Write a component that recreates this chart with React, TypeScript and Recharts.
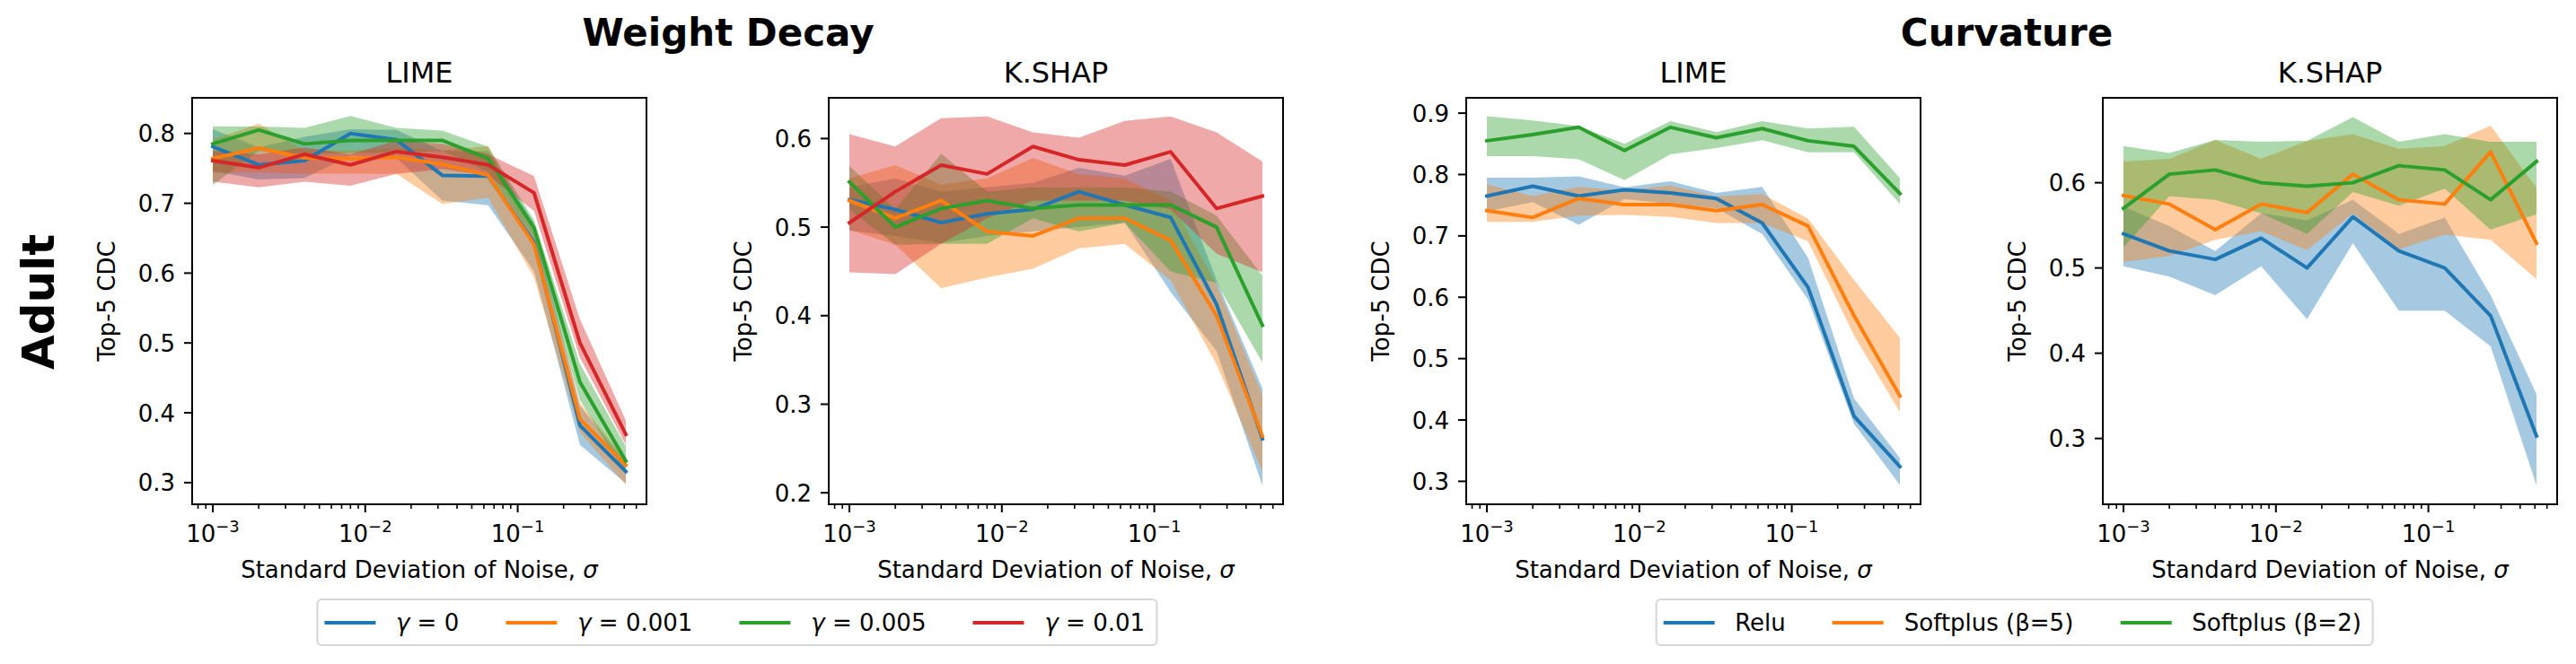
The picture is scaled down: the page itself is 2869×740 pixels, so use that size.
import React from "react";
import { Area, ComposedChart, Line, ReferenceArea, XAxis, YAxis } from "recharts";

// noise levels: 1e-3 doubling up to 0.512
const SIGMA = [0.001, 0.002, 0.004, 0.008, 0.016, 0.032, 0.064, 0.128, 0.256, 0.512];

const COLORS = ["#1f77b4", "#ff7f0e", "#2ca02c", "#d62728"];
const WD_LABELS = ["γ = 0", "γ = 0.001", "γ = 0.005", "γ = 0.01"];
const CURV_LABELS = ["Relu", "Softplus (β=5)", "Softplus (β=2)"];

// Weight decay / LIME, rows: γ = 0, 0.001, 0.005, 0.01
const WD_LIME_MEAN = [
  [0.781, 0.755, 0.761, 0.8, 0.791, 0.74, 0.739, 0.644, 0.382, 0.316],
  [0.764, 0.779, 0.765, 0.764, 0.766, 0.756, 0.74, 0.641, 0.391, 0.325],
  [0.785, 0.805, 0.785, 0.79, 0.79, 0.79, 0.764, 0.665, 0.444, 0.331],
  [0.761, 0.751, 0.77, 0.755, 0.774, 0.766, 0.755, 0.715, 0.5, 0.369],
];
const WD_LIME_LO = [
  [0.746, 0.734, 0.736, 0.768, 0.765, 0.704, 0.697, 0.603, 0.354, 0.299],
  [0.744, 0.744, 0.742, 0.742, 0.742, 0.699, 0.708, 0.594, 0.372, 0.297],
  [0.726, 0.775, 0.77, 0.772, 0.772, 0.775, 0.745, 0.65, 0.418, 0.312],
  [0.731, 0.723, 0.731, 0.725, 0.742, 0.749, 0.74, 0.689, 0.479, 0.354],
];
const WD_LIME_HI = [
  [0.806, 0.78, 0.795, 0.806, 0.805, 0.775, 0.775, 0.671, 0.41, 0.329],
  [0.791, 0.814, 0.776, 0.776, 0.779, 0.776, 0.782, 0.659, 0.414, 0.333],
  [0.81, 0.81, 0.808, 0.825, 0.808, 0.804, 0.781, 0.676, 0.47, 0.352],
  [0.775, 0.77, 0.78, 0.77, 0.79, 0.785, 0.77, 0.739, 0.534, 0.389],
];

// Weight decay / K.SHAP
const WD_SHAP_MEAN = [
  [0.531, 0.52, 0.505, 0.515, 0.52, 0.54, 0.525, 0.511, 0.413, 0.261],
  [0.53, 0.51, 0.53, 0.495, 0.49, 0.51, 0.51, 0.485, 0.4, 0.264],
  [0.551, 0.5, 0.521, 0.53, 0.521, 0.525, 0.525, 0.525, 0.5, 0.389],
  [0.505, 0.54, 0.57, 0.56, 0.591, 0.576, 0.57, 0.585, 0.521, 0.535],
];
const WD_SHAP_LO = [
  [0.496, 0.49, 0.482, 0.49, 0.495, 0.5, 0.505, 0.427, 0.36, 0.208],
  [0.497, 0.48, 0.431, 0.443, 0.453, 0.476, 0.481, 0.44, 0.345, 0.224],
  [0.52, 0.48, 0.481, 0.481, 0.51, 0.495, 0.505, 0.45, 0.437, 0.347],
  [0.449, 0.447, 0.481, 0.51, 0.53, 0.53, 0.53, 0.52, 0.47, 0.449],
];
const WD_SHAP_HI = [
  [0.545, 0.555, 0.54, 0.545, 0.55, 0.567, 0.558, 0.577, 0.44, 0.318],
  [0.555, 0.57, 0.548, 0.555, 0.578, 0.56, 0.555, 0.53, 0.435, 0.31],
  [0.569, 0.52, 0.583, 0.54, 0.545, 0.545, 0.545, 0.54, 0.513, 0.445],
  [0.605, 0.591, 0.623, 0.625, 0.607, 0.601, 0.62, 0.625, 0.607, 0.574],
];

// Curvature / LIME, rows: Relu, Softplus β=5, Softplus β=2
const CV_LIME_MEAN = [
  [0.765, 0.781, 0.765, 0.775, 0.77, 0.761, 0.721, 0.616, 0.406, 0.324],
  [0.741, 0.73, 0.761, 0.751, 0.751, 0.741, 0.751, 0.716, 0.57, 0.439],
  [0.855, 0.865, 0.877, 0.839, 0.877, 0.86, 0.875, 0.855, 0.846, 0.769],
];
const CV_LIME_LO = [
  [0.74, 0.755, 0.718, 0.76, 0.752, 0.745, 0.703, 0.596, 0.394, 0.294],
  [0.723, 0.723, 0.733, 0.734, 0.731, 0.721, 0.721, 0.691, 0.538, 0.413],
  [0.83, 0.83, 0.825, 0.791, 0.833, 0.843, 0.856, 0.836, 0.836, 0.752],
];
const CV_LIME_HI = [
  [0.795, 0.795, 0.797, 0.779, 0.789, 0.77, 0.78, 0.664, 0.435, 0.338],
  [0.784, 0.765, 0.78, 0.774, 0.782, 0.764, 0.768, 0.728, 0.628, 0.534],
  [0.895, 0.888, 0.879, 0.85, 0.887, 0.869, 0.887, 0.875, 0.878, 0.794],
];

// Curvature / K.SHAP
const CV_SHAP_MEAN = [
  [0.54, 0.52, 0.51, 0.535, 0.5, 0.56, 0.52, 0.5, 0.444, 0.303],
  [0.585, 0.575, 0.545, 0.575, 0.565, 0.61, 0.58, 0.575, 0.636, 0.529],
  [0.57, 0.61, 0.615, 0.6, 0.596, 0.6, 0.62, 0.615, 0.58, 0.625],
];
const CV_SHAP_LO = [
  [0.502, 0.49, 0.468, 0.502, 0.44, 0.529, 0.45, 0.45, 0.408, 0.245],
  [0.507, 0.514, 0.533, 0.543, 0.521, 0.564, 0.522, 0.539, 0.533, 0.487],
  [0.524, 0.584, 0.58, 0.564, 0.54, 0.589, 0.573, 0.593, 0.545, 0.563],
];
const CV_SHAP_HI = [
  [0.572, 0.549, 0.52, 0.564, 0.556, 0.58, 0.54, 0.559, 0.468, 0.352],
  [0.625, 0.628, 0.65, 0.628, 0.649, 0.657, 0.64, 0.643, 0.667, 0.594],
  [0.643, 0.635, 0.65, 0.648, 0.649, 0.677, 0.648, 0.657, 0.648, 0.648],
];

const X_MAJOR = [0.001, 0.01, 0.1];
const X_TICKS = [
  0.0008, 0.0009, 0.001, 0.002, 0.003, 0.004, 0.005, 0.006, 0.007, 0.008, 0.009,
  0.01, 0.02, 0.03, 0.04, 0.05, 0.06, 0.07, 0.08, 0.09, 0.1, 0.2, 0.3, 0.4, 0.5, 0.6,
];

// matplotlib-style 5% margin in log space
const PAD = Math.pow(10, 0.05 * Math.log10(SIGMA[SIGMA.length - 1] / SIGMA[0]));
const X_DOMAIN: [number, number] = [SIGMA[0] / PAD, SIGMA[SIGMA.length - 1] * PAD];

const FONT = "DejaVu Sans";
const PLOT_W = 506;
const PLOT_TOP = 109;
const PLOT_BOTTOM = 562;
const Y_AXIS_W = 100;

function XTick({ x, y, payload }: any) {
  const v: number = payload.value;
  const major = X_MAJOR.some((m) => Math.abs(m - v) < 1e-9);
  const exp = Math.round(Math.log10(v));
  return (
    <g>
      <line x1={x} x2={x} y1={y} y2={y + (major ? 9 : 5)} stroke="#000" strokeWidth={major ? 2 : 1.6} />
      {major && (
        <text x={x} y={y + 42} textAnchor="middle" fontSize={26} fontFamily={FONT} fill="#000">
          10
          <tspan dy={-11} fontSize={18}>
            {"\u2212" + String(-exp)}
          </tspan>
        </text>
      )}
    </g>
  );
}

function YTick({ x, y, payload }: any) {
  return (
    <g>
      <line x1={x - 9} x2={x} y1={y} y2={y} stroke="#000" strokeWidth={2} />
      <text x={x - 19} y={y + 9.5} textAnchor="end" fontSize={26} fontFamily={FONT} fill="#000">
        {Number(payload.value).toFixed(1)}
      </text>
    </g>
  );
}

function buildRows(mean: number[][], lo: number[][], hi: number[][]) {
  return SIGMA.map((x, i) => {
    const row: Record<string, number | number[]> = { x };
    mean.forEach((m, s) => {
      row[`m${s}`] = m[i];
      row[`b${s}`] = [lo[s][i], hi[s][i]];
    });
    return row;
  });
}

function Panel({
  left,
  yDomain,
  yTicks,
  mean,
  lo,
  hi,
}: {
  left: number;
  yDomain: [number, number];
  yTicks: number[];
  mean: number[][];
  lo: number[][];
  hi: number[][];
}) {
  const rows = buildRows(mean, lo, hi);
  return (
    <div style={{ position: "absolute", left: left - Y_AXIS_W, top: 0 }}>
      <ComposedChart
        width={Y_AXIS_W + PLOT_W + 20}
        height={PLOT_BOTTOM + 100}
        data={rows}
        margin={{ top: PLOT_TOP, right: 20, bottom: 0, left: 0 }}
      >
        <XAxis
          dataKey="x"
          type="number"
          scale="log"
          domain={X_DOMAIN}
          allowDataOverflow
          ticks={X_TICKS}
          interval={0}
          tick={<XTick />}
          tickLine={false}
          axisLine={false}
          tickSize={0}
          tickMargin={0}
          height={100}
        />
        <YAxis
          type="number"
          domain={yDomain}
          allowDataOverflow
          ticks={yTicks}
          interval={0}
          tick={<YTick />}
          tickLine={false}
          axisLine={false}
          tickSize={0}
          tickMargin={0}
          width={Y_AXIS_W}
        />
        {mean.map((_, s) => (
          <Area
            key={`band-${s}`}
            dataKey={`b${s}`}
            type="linear"
            stroke="none"
            fill={COLORS[s]}
            fillOpacity={0.4}
            dot={false}
            activeDot={false}
            isAnimationActive={false}
          />
        ))}
        {mean.map((_, s) => (
          <Line
            key={`line-${s}`}
            dataKey={`m${s}`}
            type="linear"
            stroke={COLORS[s]}
            strokeWidth={4}
            strokeLinejoin="round"
            strokeLinecap="square"
            dot={false}
            activeDot={false}
            isAnimationActive={false}
          />
        ))}
        <ReferenceArea
          x1={X_DOMAIN[0]}
          x2={X_DOMAIN[1]}
          y1={yDomain[0]}
          y2={yDomain[1]}
          fill="none"
          stroke="#000"
          strokeWidth={2}
          ifOverflow="visible"
        />
      </ComposedChart>
    </div>
  );
}

function LegendBox({ center, labels }: { center: number; labels: string[] }) {
  return (
    <div
      style={{
        position: "absolute",
        left: center,
        top: 667,
        height: 53,
        transform: "translateX(-50%)",
        boxSizing: "border-box",
        border: "2px solid #d6d6d6",
        borderRadius: 6,
        background: "#fff",
        display: "flex",
        alignItems: "center",
        gap: 52,
        padding: "0 12px 0 7px",
        fontFamily: FONT,
        fontSize: 26,
        whiteSpace: "nowrap",
      }}
    >
      {labels.map((lab, i) => (
        <div key={lab} style={{ display: "flex", alignItems: "center" }}>
          <div style={{ width: 57, height: 4, background: COLORS[i], marginRight: 23 }} />
          <span>
            {lab.startsWith("γ") ? (
              <>
                <i>γ</i>
                {lab.slice(1)}
              </>
            ) : (
              lab
            )}
          </span>
        </div>
      ))}
    </div>
  );
}

const PANELS = [
  { left: 214, title: "LIME", yDomain: [0.269, 0.851] as [number, number], yTicks: [0.3, 0.4, 0.5, 0.6, 0.7, 0.8], mean: WD_LIME_MEAN, lo: WD_LIME_LO, hi: WD_LIME_HI },
  { left: 923, title: "K.SHAP", yDomain: [0.187, 0.646] as [number, number], yTicks: [0.2, 0.3, 0.4, 0.5, 0.6], mean: WD_SHAP_MEAN, lo: WD_SHAP_LO, hi: WD_SHAP_HI },
  { left: 1633, title: "LIME", yDomain: [0.2626, 0.925] as [number, number], yTicks: [0.3, 0.4, 0.5, 0.6, 0.7, 0.8, 0.9], mean: CV_LIME_MEAN, lo: CV_LIME_LO, hi: CV_LIME_HI },
  { left: 2342, title: "K.SHAP", yDomain: [0.2228, 0.6996] as [number, number], yTicks: [0.3, 0.4, 0.5, 0.6], mean: CV_SHAP_MEAN, lo: CV_SHAP_LO, hi: CV_SHAP_HI },
];

export default function App() {
  const midY = (PLOT_TOP + PLOT_BOTTOM) / 2;
  return (
    <div style={{ position: "absolute", left: 0, top: 0, width: 2869, height: 740, background: "#fff", overflow: "hidden" }}>
      <svg width={2869} height={740} style={{ position: "absolute", left: 0, top: 0 }} fontFamily={FONT} fill="#000">
        <text x={811} y={50.5} textAnchor="middle" fontSize={42} fontWeight="bold">
          Weight Decay
        </text>
        <text x={2235} y={50.5} textAnchor="middle" fontSize={42} fontWeight="bold">
          Curvature
        </text>
        <text transform={`translate(60, ${midY + 1}) rotate(-90)`} textAnchor="middle" fontSize={50} fontWeight="bold">
          Adult
        </text>
        {PANELS.map((p) => (
          <g key={p.left}>
            <text x={p.left + PLOT_W / 2} y={92} textAnchor="middle" fontSize={32}>
              {p.title}
            </text>
            <text transform={`translate(${p.left - 86}, ${midY}) rotate(-90)`} textAnchor="middle" fontSize={26}>
              Top-5 CDC
            </text>
            <text x={p.left + PLOT_W / 2} y={644} textAnchor="middle" fontSize={26}>
              Standard Deviation of Noise, <tspan fontStyle="italic">σ</tspan>
            </text>
          </g>
        ))}
      </svg>
      {PANELS.map((p) => (
        <Panel key={p.left} left={p.left} yDomain={p.yDomain} yTicks={p.yTicks} mean={p.mean} lo={p.lo} hi={p.hi} />
      ))}
      <LegendBox center={820.5} labels={WD_LABELS} />
      <LegendBox center={2243.5} labels={CURV_LABELS} />
    </div>
  );
}
